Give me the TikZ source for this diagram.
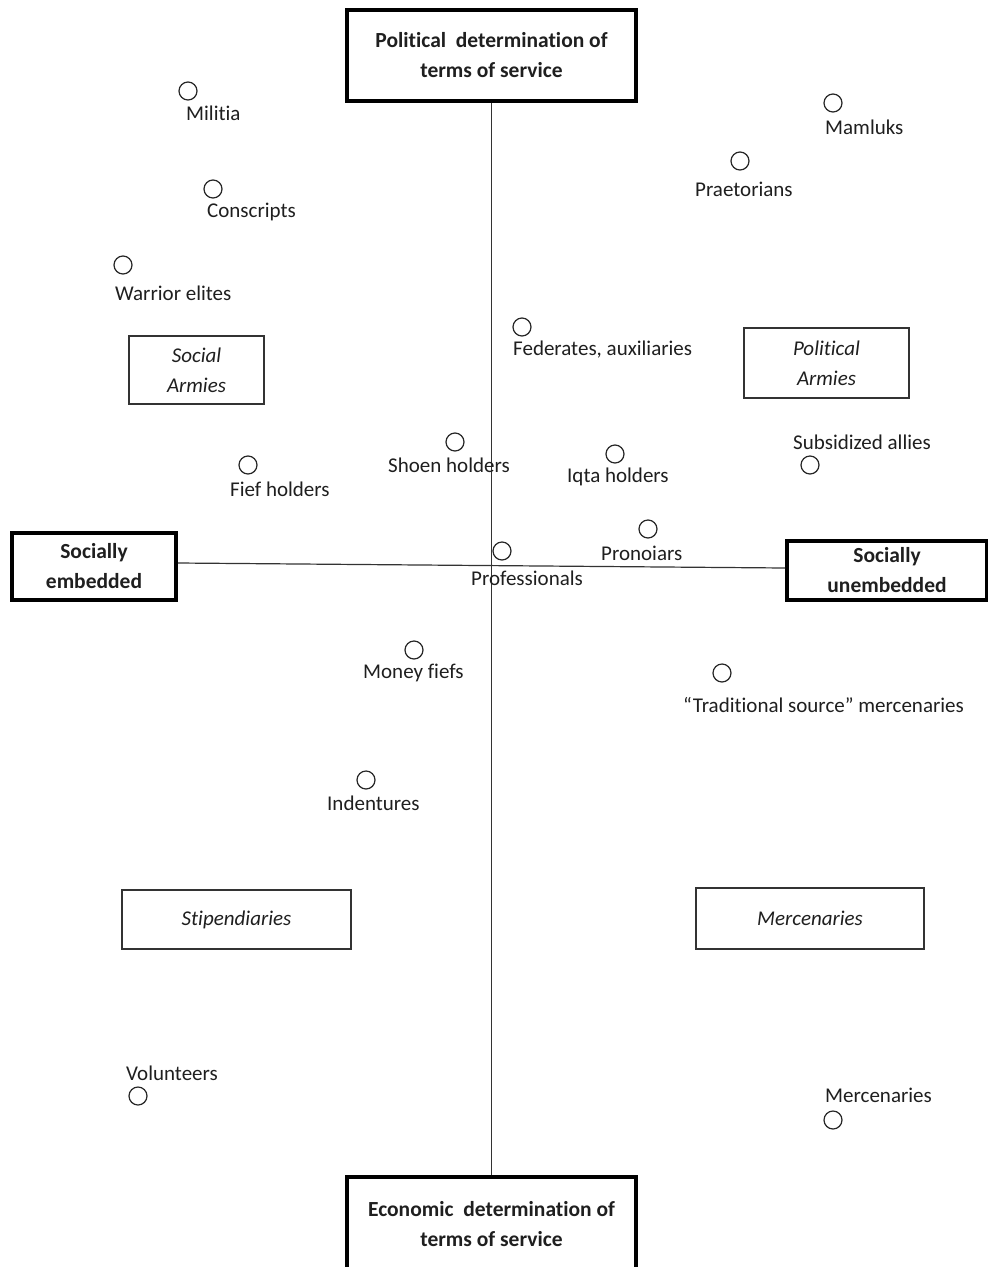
\documentclass[tikz,border=0pt]{standalone}
\usepackage{fontspec}
\setmainfont{Carlito}[Ligatures=NoCommon]
\begin{document}
\begin{tikzpicture}[x=1pt,y=-1pt,
 axisbox/.style={draw, line width=4pt, fill=white, align=center, text=black!88, font=\bfseries\fontsize{21.5}{30}\selectfont, inner sep=0},
 typebox/.style={draw=black!80, line width=1.3pt, align=center, text=black!88, font=\itshape\fontsize{21}{30}\selectfont, inner sep=0},
 dot/.style={circle, draw=black!85, line width=1.2pt, minimum size=18pt, inner sep=0},
 lbl/.style={anchor=west, inner sep=0, text=black!88, font=\fontsize{21}{24}\selectfont},
 axis/.style={draw=black!80, line width=1.2pt}]
\clip (0,0) rectangle (988,1267);
\fill[white] (0,0) rectangle (988,1267);
% axis boxes
\node[axisbox, minimum width=289, minimum height=91] (pol) at (491.5,55.5) {Political\ \ determination of\\terms of service};
\node[axisbox, minimum width=289, minimum height=94] (eco) at (491.5,1224) {Economic\ \ determination of\\terms of service};
\node[axisbox, minimum width=164, minimum height=67] (emb) at (94,566.5) {Socially\\embedded};
\node[axisbox, minimum width=200, minimum height=59] (unemb) at (887,570.5) {Socially\\unembedded};
% axes
\draw[axis] (pol.south) -- (eco.north);
\draw[axis] ([yshift=3.5pt]emb.east) -- ([yshift=2.5pt]unemb.west);
% type boxes
\node[typebox, minimum width=135, minimum height=68] (social) at (196.5,370) {Social\\Armies};
\node[typebox, minimum width=165, minimum height=70] (politicalA) at (826.5,363) {Political\\Armies};
\node[typebox, minimum width=229, minimum height=59] (stip) at (236.5,919.5) {Stipendiaries};
\node[typebox, minimum width=228, minimum height=61] (merc) at (810,918.5) {Mercenaries};
% points
\node[dot] (p1) at (188,91) {};   \node[lbl] (l1) at (186,113) {Militia};
\node[dot] (p2) at (833,103) {};  \node[lbl] (l2) at (825,127) {Mamluks};
\node[dot] (p3) at (740,161) {};  \node[lbl] (l3) at (695,189) {Praetorians};
\node[dot] (p4) at (213,189) {};  \node[lbl] (l4) at (207,212) {Conscripts};
\node[dot] (p5) at (123,265) {};  \node[lbl] (l5) at (115,293) {Warrior elites};
\node[dot] (p6) at (522,327) {};  \node[lbl] (l6) at (513,350) {Federates, auxiliaries};
\node[dot] (p7) at (455,442) {};  \node[lbl] (l7) at (388,465) {Shoen holders};
\node[dot] (p8) at (615,454) {};  \node[lbl] (l8) at (567,477) {Iqta holders};
\node[dot] (p9) at (810,465) {};  \node[lbl] (l9) at (793,442) {Subsidized allies};
\node[dot] (p10) at (248,465) {}; \node[lbl] (l10) at (230,489) {Fief holders};
\node[dot] (p11) at (648,529) {}; \node[lbl] (l11) at (601,553) {Pronoiars};
\node[dot] (p12) at (502,551) {}; \node[lbl] (l12) at (471,578) {Professionals};
\node[dot] (p13) at (414,650) {}; \node[lbl] (l13) at (363,673) {Money fiefs};
\node[dot] (p14) at (722,673) {}; \node[lbl] (l14) at (683,705) {“Traditional source” mercenaries};
\node[dot] (p15) at (366,780) {}; \node[lbl] (l15) at (327,803) {Indentures};
\node[dot] (p16) at (138,1096) {}; \node[lbl] (l16) at (126,1073) {Volunteers};
\node[dot] (p17) at (833,1120) {}; \node[lbl] (l17) at (825,1095) {Mercenaries};
\end{tikzpicture}
\end{document}
